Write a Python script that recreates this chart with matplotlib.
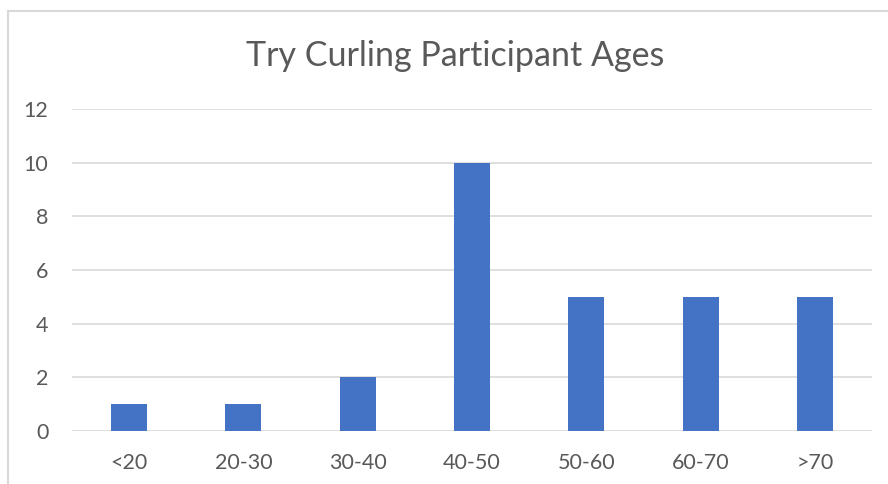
import matplotlib.pyplot as plt
from matplotlib.lines import Line2D

plt.rcParams['font.family'] = ['Lato', 'DejaVu Sans']

categories = ['<20', '20-30', '30-40', '40-50', '50-60', '60-70', '>70']
counts = [1, 1, 2, 10, 5, 5, 5]
yticks = [0, 2, 4, 6, 8, 10, 12]

fig = plt.figure(figsize=(8.88, 4.84), dpi=100)
ax = fig.add_axes([72/888, 1 - 431/484, 800/888, 322/484])

# gridlines
for y in yticks:
	ax.axhline(y, color='#d9d9d9', lw=1.2, zorder=0)

ax.bar(range(len(categories)), counts, width=0.315, color='#4472c4', zorder=2)

ax.set_xlim(-0.5, len(categories) - 0.5)
ax.set_ylim(0, 12)
ax.set_xticks(range(len(categories)))
ax.set_xticklabels(categories)
ax.set_yticks(yticks)
ax.tick_params(axis='both', length=0, labelsize=15.5, colors='#595959')
ax.tick_params(axis='x', pad=16)
ax.tick_params(axis='y', pad=17)
for s in ax.spines.values():
	s.set_visible(False)

fig.text(455/888, 1 - 56/484, 'Try Curling Participant Ages', ha='center', va='center',
	fontsize=24.5, color='#595959')

# chart border (partly cut off by the picture edge)
fig.add_artist(Line2D([8/888, 8/888], [0, 1 - 11/484], transform=fig.transFigure, color='#d9d9d9', lw=1.5))
fig.add_artist(Line2D([8/888, 1], [1 - 11/484, 1 - 11/484], transform=fig.transFigure, color='#d9d9d9', lw=1.5))

fig.savefig('out.png', dpi=100)
